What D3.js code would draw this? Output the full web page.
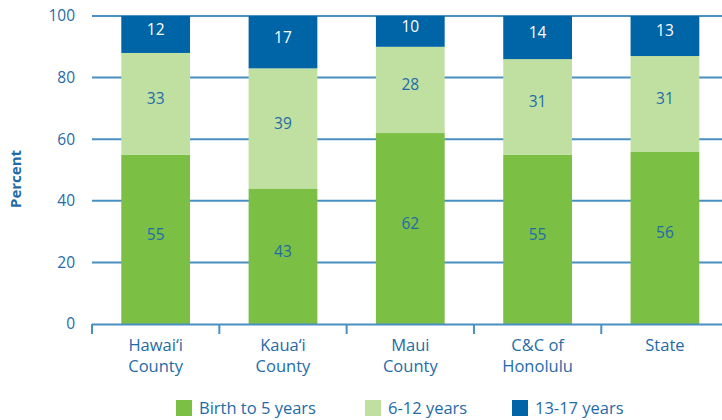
<!DOCTYPE html>
<html><head><meta charset="utf-8">
<script src="https://cdn.jsdelivr.net/npm/d3@7"></script>
<style>body{margin:0;background:#fff}svg{display:block}</style>
</head><body>
<svg id="c" width="722" height="420"></svg>
<script>
const categories = [["Hawai\u2018i","County"],["Kaua\u2018i","County"],["Maui","County"],["C&C of","Honolulu"],["State"]];
const birthTo5 = [55, 44, 62, 55, 56];
const age6to12 = [33, 39, 28, 31, 31];
const age13to17 = [12, 17, 10, 14, 13];
const birthLabels = ["55","43","62","55","56"];
const age6Labels = ["33","39","28","31","31"];
const age13Labels = ["12","17","10","14","13"];
const seriesNames = ["Birth to 5 years","6-12 years","13-17 years"];
const yTicks = [0,20,40,60,80,100];

const colors = ["#7bbf44","#bfe0a0","#0065a6"];
const textBlue = "#1f6ba8";
const font = "'Open Sans', sans-serif";
const svg = d3.select("#c");

const x = d3.scaleBand().domain(d3.range(categories.length)).range([92, 728.6]).paddingInner(0.46).paddingOuter(0.23);
const y = d3.scaleLinear().domain([0,100]).range([324,16]);

// gridlines
svg.append("g").selectAll("line").data(yTicks.filter(d=>d>0)).join("line")
  .attr("x1",92).attr("x2",722).attr("y1",d=>y(d)).attr("y2",d=>y(d))
  .attr("stroke","#4a8fc2").attr("stroke-width",2);

// y labels
svg.append("g").selectAll("text").data(yTicks).join("text")
  .attr("x",75).attr("y",d=>y(d)).attr("dy","0.35em").attr("text-anchor","end")
  .attr("font-family",font).attr("font-size",15.5).attr("fill",textBlue).text(d=>d);

const labels = [birthLabels, age6Labels, age13Labels];
const rows = categories.map((c,i)=>({i, a:birthTo5[i], b:age6to12[i], c:age13to17[i]}));
const stack = d3.stack().keys(["a","b","c"])(rows);

stack.forEach((layer,k)=>{
  svg.append("g").selectAll("rect").data(layer).join("rect")
    .attr("x",d=>x(d.data.i)).attr("width",x.bandwidth())
    .attr("y",d=>y(d[1])).attr("height",d=>y(d[0])-y(d[1]))
    .attr("fill",colors[k]);
  svg.append("g").selectAll("text").data(layer).join("text")
    .attr("x",d=>x(d.data.i)+x.bandwidth()/2).attr("y",d=>(y(d[0])+y(d[1]))/2 - 5)
    .attr("dy","0.35em").attr("text-anchor","middle")
    .attr("font-family",font).attr("font-size",15.5)
    .attr("fill",k===2?"#fff":textBlue).text(d=>labels[k][d.data.i]);
});

// x axis
const step = x.step();
svg.append("line").attr("x1",92).attr("x2",722).attr("y1",324.5).attr("y2",324.5)
  .attr("stroke","#4a8fc2").attr("stroke-width",2);
svg.append("g").selectAll("line").data(d3.range(categories.length+1)).join("line")
  .attr("x1",d=>92+d*step).attr("x2",d=>92+d*step).attr("y1",324).attr("y2",334)
  .attr("stroke","#4a8fc2").attr("stroke-width",2);

const cl = svg.append("g").selectAll("text").data(categories).join("text")
  .attr("text-anchor","middle").attr("font-family",font).attr("font-size",16.5).attr("fill",textBlue);
cl.each(function(d,i){
  d.forEach((line,j)=>{
    d3.select(this).append("tspan").attr("x",x(i)+x.bandwidth()/2).attr("y",351+j*21).text(line);
  });
});

// y axis title
svg.append("text").attr("transform","translate(21,179) rotate(-90)").attr("text-anchor","middle")
  .attr("font-family",font).attr("font-size",15).attr("font-weight","bold").attr("fill",textBlue).text("Percent");

// legend
const legX = [176, 365, 512];
const lg = svg.append("g").selectAll("g").data(seriesNames).join("g")
  .attr("transform",(d,i)=>`translate(${legX[i]},400)`);
lg.append("rect").attr("width",16).attr("height",16).attr("fill",(d,i)=>colors[i]);
lg.append("text").attr("x",23).attr("y",14).attr("font-family",font).attr("font-size",16.5)
  .attr("fill",textBlue).text(d=>d);
</script>
</body></html>
